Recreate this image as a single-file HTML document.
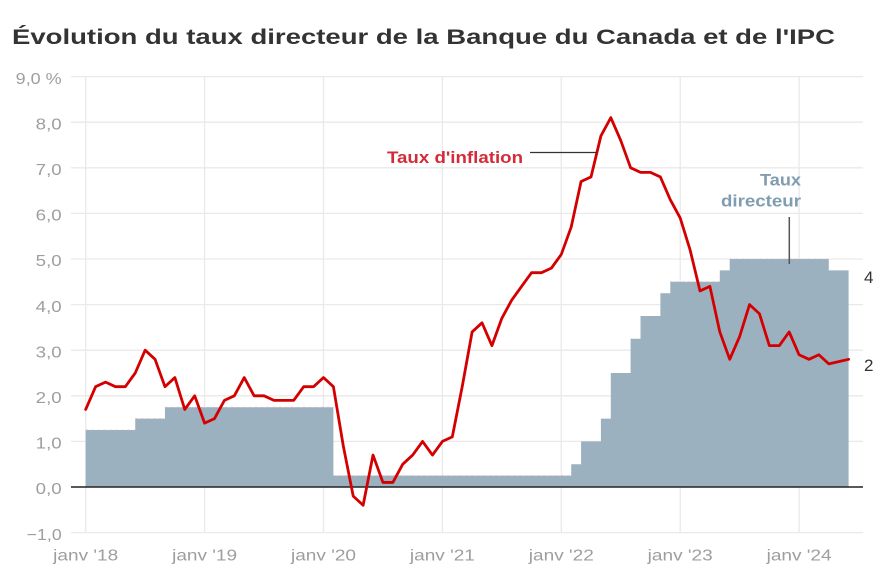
<!DOCTYPE html>
<html><head><meta charset="utf-8"><style>
html,body{margin:0;padding:0;background:#fff;}
svg{display:block;}
text{font-family:"Liberation Sans",sans-serif;}
</style></head><body>
<svg width="875" height="584" viewBox="0 0 875 584" xmlns="http://www.w3.org/2000/svg">
<rect width="875" height="584" fill="#fff"/>
<text x="12" y="44" font-size="21" font-weight="bold" fill="#333" textLength="823" lengthAdjust="spacingAndGlyphs">Évolution du taux directeur de la Banque du Canada et de l'IPC</text>
<g stroke="#e9e9e9" stroke-width="1.3">
<line x1="71" y1="76.6" x2="863" y2="76.6"/>
<line x1="71" y1="122.2" x2="863" y2="122.2"/>
<line x1="71" y1="167.8" x2="863" y2="167.8"/>
<line x1="71" y1="213.4" x2="863" y2="213.4"/>
<line x1="71" y1="259" x2="863" y2="259"/>
<line x1="71" y1="304.6" x2="863" y2="304.6"/>
<line x1="71" y1="350.2" x2="863" y2="350.2"/>
<line x1="71" y1="395.8" x2="863" y2="395.8"/>
<line x1="71" y1="441.4" x2="863" y2="441.4"/>
<line x1="71" y1="532.6" x2="863" y2="532.6"/>
<line x1="85.7" y1="76" x2="85.7" y2="533"/>
<line x1="204.6" y1="76" x2="204.6" y2="533"/>
<line x1="323.5" y1="76" x2="323.5" y2="533"/>
<line x1="442.4" y1="76" x2="442.4" y2="533"/>
<line x1="561.3" y1="76" x2="561.3" y2="533"/>
<line x1="680.2" y1="76" x2="680.2" y2="533"/>
<line x1="799.1" y1="76" x2="799.1" y2="533"/>
</g>
<path d="M85.7,487 L85.7,430 L135.24,430 L135.24,418.6 L164.96,418.6 L164.96,407.2 L333.4,407.2 L333.4,475.6 L571.19,475.6 L571.19,464.2 L581.1,464.2 L581.1,441.4 L600.9,441.4 L600.9,418.6 L610.8,418.6 L610.8,373 L630.6,373 L630.6,338.8 L640.5,338.8 L640.5,316 L660.4,316 L660.4,293.2 L670.3,293.2 L670.3,281.8 L719.8,281.8 L719.8,270.4 L729.7,270.4 L729.7,259 L828.8,259 L828.8,270.4 L848.6,270.4 L848.6,487 Z" fill="#98aebc" fill-opacity="0.96"/>
<path d="M85.7,430 L135.24,430 M135.24,418.6 L164.96,418.6 M164.96,407.2 L333.4,407.2 M333.4,475.6 L571.19,475.6 M670.3,281.8 L719.8,281.8 M729.7,259 L828.8,259" fill="none" stroke="#e7a9ae" stroke-width="1" stroke-dasharray="2,4" opacity="0.6"/>
<line x1="71" y1="487" x2="863" y2="487" stroke="#222" stroke-width="1.4"/>
<polyline fill="none" stroke="#d40000" stroke-width="2.8" stroke-linejoin="round" stroke-linecap="round" points="85.70,409.48 95.61,386.68 105.52,382.12 115.42,386.68 125.33,386.68 135.24,373.0 145.15,350.2 155.06,359.32 164.96,386.68 174.87,377.56 184.78,409.48 194.69,395.8 204.6,423.16 214.5,418.6 224.41,400.36 234.32,395.8 244.23,377.56 254.14,395.8 264.04,395.8 273.95,400.36 283.86,400.36 293.77,400.36 303.68,386.68 313.58,386.68 323.49,377.56 333.4,386.68 343.31,445.96 353.22,496.12 363.12,505.24 373.03,455.08 382.94,482.44 392.85,482.44 402.76,464.2 412.66,455.08 422.57,441.4 432.48,455.08 442.39,441.4 452.3,436.84 462.2,386.68 472.11,331.96 482.02,322.84 491.93,345.64 501.84,318.28 511.74,300.04 521.65,286.36 531.56,272.68 541.47,272.68 551.38,268.12 561.28,254.44 571.19,227.08 581.1,181.48 591.01,176.92 600.92,135.88 610.82,117.64 620.73,140.44 630.64,167.8 640.55,172.36 650.46,172.36 660.36,176.92 670.27,199.72 680.18,217.96 690.09,249.88 700.0,290.92 709.9,286.36 719.81,331.96 729.72,359.32 739.63,336.52 749.54,304.6 759.44,313.72 769.35,345.64 779.26,345.64 789.17,331.96 799.08,354.76 808.98,359.32 818.89,354.76 828.8,363.88 838.71,361.6 848.62,359.32"/>
<g font-size="16" fill="#9e9e9e" text-anchor="end">
<text x="61.7" y="83.8" textLength="46" lengthAdjust="spacingAndGlyphs">9,0 %</text>
<text x="61.7" y="129.4" textLength="26" lengthAdjust="spacingAndGlyphs">8,0</text>
<text x="61.7" y="175" textLength="26" lengthAdjust="spacingAndGlyphs">7,0</text>
<text x="61.7" y="220.6" textLength="26" lengthAdjust="spacingAndGlyphs">6,0</text>
<text x="61.7" y="266.2" textLength="26" lengthAdjust="spacingAndGlyphs">5,0</text>
<text x="61.7" y="311.8" textLength="26" lengthAdjust="spacingAndGlyphs">4,0</text>
<text x="61.7" y="357.4" textLength="26" lengthAdjust="spacingAndGlyphs">3,0</text>
<text x="61.7" y="403" textLength="26" lengthAdjust="spacingAndGlyphs">2,0</text>
<text x="61.7" y="448.6" textLength="26" lengthAdjust="spacingAndGlyphs">1,0</text>
<text x="61.7" y="494.2" textLength="26" lengthAdjust="spacingAndGlyphs">0,0</text>
<text x="61.7" y="539.8" textLength="35" lengthAdjust="spacingAndGlyphs">−1,0</text>
</g>
<g font-size="16" fill="#9e9e9e" text-anchor="middle">
<text x="85.7" y="560.5" textLength="65" lengthAdjust="spacingAndGlyphs">janv '18</text>
<text x="204.6" y="560.5" textLength="65" lengthAdjust="spacingAndGlyphs">janv '19</text>
<text x="323.5" y="560.5" textLength="65" lengthAdjust="spacingAndGlyphs">janv '20</text>
<text x="442.4" y="560.5" textLength="65" lengthAdjust="spacingAndGlyphs">janv '21</text>
<text x="561.3" y="560.5" textLength="65" lengthAdjust="spacingAndGlyphs">janv '22</text>
<text x="680.2" y="560.5" textLength="65" lengthAdjust="spacingAndGlyphs">janv '23</text>
<text x="799.1" y="560.5" textLength="65" lengthAdjust="spacingAndGlyphs">janv '24</text>
</g>
<text x="387" y="162.8" font-size="17" font-weight="bold" fill="#d42b38" textLength="136" lengthAdjust="spacingAndGlyphs">Taux d'inflation</text>
<line x1="530" y1="152.5" x2="597" y2="152.5" stroke="#333" stroke-width="1.3"/>
<text x="801" y="185.5" font-size="17" font-weight="bold" fill="#7f9cb1" text-anchor="end" textLength="41" lengthAdjust="spacingAndGlyphs">Taux</text>
<text x="801" y="206.5" font-size="17" font-weight="bold" fill="#7f9cb1" text-anchor="end" textLength="80" lengthAdjust="spacingAndGlyphs">directeur</text>
<line x1="789.3" y1="217" x2="789.3" y2="264" stroke="#555" stroke-width="1.5"/>
<text x="864" y="283" font-size="17" fill="#333">4</text>
<text x="864" y="371" font-size="17" fill="#333">2</text>
</svg>
</body></html>
